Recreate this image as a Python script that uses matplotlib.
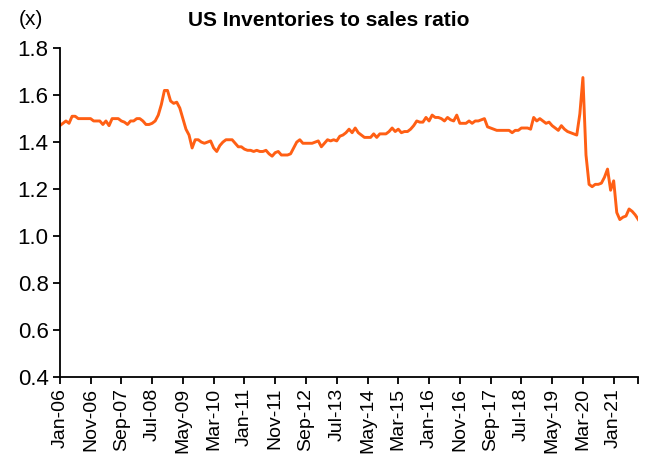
import matplotlib.pyplot as plt
from matplotlib.ticker import FixedLocator, MultipleLocator

plt.rcParams['font.family'] = ['Liberation Sans', 'DejaVu Sans']

# monthly ratio, Jan-06 onwards
ratio = [
    1.47, 1.48, 1.49, 1.48, 1.51, 1.51, 1.50, 1.50, 1.50, 1.50, 1.50, 1.49,
    1.49, 1.49, 1.475, 1.49, 1.47, 1.50, 1.50, 1.50, 1.49, 1.485, 1.475, 1.49,
    1.49, 1.50, 1.50, 1.49, 1.475, 1.475, 1.48, 1.49, 1.515, 1.56, 1.62, 1.62,
    1.575, 1.565, 1.57, 1.545, 1.50, 1.455, 1.43, 1.375, 1.41, 1.41, 1.40, 1.395,
    1.40, 1.405, 1.375, 1.36, 1.385, 1.40, 1.41, 1.41, 1.41, 1.395, 1.38, 1.38,
    1.37, 1.365, 1.365, 1.36, 1.365, 1.36, 1.36, 1.365, 1.35, 1.34, 1.355, 1.36,
    1.345, 1.345, 1.345, 1.35, 1.375, 1.40, 1.41, 1.395, 1.395, 1.395, 1.395, 1.40,
    1.405, 1.38, 1.395, 1.41, 1.405, 1.41, 1.405, 1.425, 1.43, 1.44, 1.455, 1.44,
    1.46, 1.44, 1.43, 1.42, 1.42, 1.42, 1.435, 1.42, 1.435, 1.435, 1.435, 1.445,
    1.46, 1.445, 1.455, 1.44, 1.445, 1.445, 1.455, 1.47, 1.49, 1.485, 1.485, 1.505,
    1.49, 1.515, 1.505, 1.505, 1.50, 1.49, 1.505, 1.495, 1.49, 1.515, 1.48, 1.48,
    1.48, 1.49, 1.48, 1.49, 1.49, 1.495, 1.50, 1.465, 1.46, 1.455, 1.45, 1.45,
    1.45, 1.45, 1.45, 1.44, 1.45, 1.45, 1.46, 1.46, 1.46, 1.455, 1.505, 1.49,
    1.50, 1.49, 1.48, 1.485, 1.47, 1.46, 1.45, 1.47, 1.455, 1.445, 1.44, 1.435,
    1.43, 1.52, 1.675, 1.345, 1.22, 1.21, 1.22, 1.22, 1.225, 1.25, 1.285, 1.195,
    1.235, 1.10, 1.07, 1.08, 1.085, 1.115, 1.105, 1.09, 1.07,
]
month_names = ['Jan', 'Feb', 'Mar', 'Apr', 'May', 'Jun',
               'Jul', 'Aug', 'Sep', 'Oct', 'Nov', 'Dec']
labels = ['%s-%02d' % (month_names[i % 12], 6 + i // 12) for i in range(len(ratio))]

fig = plt.figure(figsize=(6.5, 4.59), dpi=100)
ax = fig.add_axes([0.092, 0.179, 0.89, 0.716])

x = list(range(len(ratio)))
ax.plot(x, ratio, color='#FF5F14', linewidth=2.1)

ax.set_xlim(0, len(ratio) - 1)
ax.set_ylim(0.4, 1.8)
ax.yaxis.set_major_locator(MultipleLocator(0.2))
ax.set_yticklabels(['%.1f' % v for v in ax.get_yticks()])

major = list(range(0, len(ratio), 10))
ax.xaxis.set_major_locator(FixedLocator(major))
ax.xaxis.set_minor_locator(FixedLocator([len(ratio) - 1]))
ax.set_xticklabels([labels[i] for i in major], rotation=90)

ax.spines['top'].set_visible(False)
ax.spines['right'].set_visible(False)
ax.spines['left'].set_linewidth(1.3)
ax.spines['bottom'].set_linewidth(1.3)
ax.tick_params(axis='both', which='both', direction='out', length=5, width=1.3,
               colors='black')
ax.tick_params(axis='y', labelsize=16, pad=3)
ax.tick_params(axis='x', labelsize=14, pad=3)

fig.text(0.505, 0.955, 'US Inventories to sales ratio', ha='center', va='center',
         fontsize=15, fontweight='bold')
fig.text(0.047, 0.958, '(x)', ha='center', va='center', fontsize=15)

plt.savefig('out.png', dpi=100)
